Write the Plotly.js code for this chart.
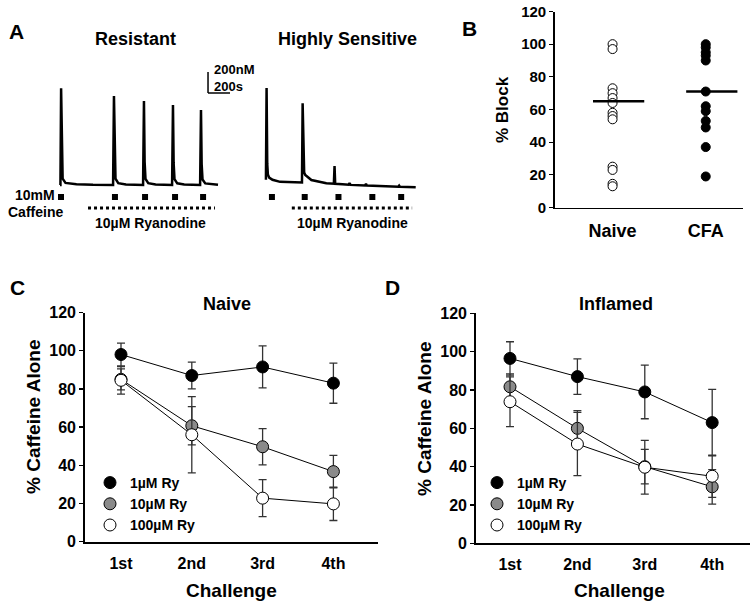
<!DOCTYPE html>
<html>
<head>
<meta charset="utf-8">
<script src="https://cdn.plot.ly/plotly-3.0.1.min.js"></script>
<style>body{margin:0;background:#fff}#chart{width:751px;height:607px}</style>
</head>
<body>
<div id="chart"></div>
<script>
// ---- A: example Ca traces (time in s, [Ca] in nM) ----
var resTime = [0, 4, 10, 16, 24, 50, 150, 300, 483, 491, 497, 505, 530, 600, 756, 764, 770, 778, 803, 870,
  1020, 1028, 1034, 1042, 1067, 1130, 1275, 1283, 1289, 1297, 1322, 1390, 1438];
var resCa = [100, 100, 1020, 330, 160, 120, 108, 102, 100, 945, 330, 160, 118, 104, 101, 898, 320, 158, 117, 104,
  101, 860, 310, 155, 116, 104, 101, 812, 300, 152, 115, 104, 102];
var senTime = [0, 6, 12, 18, 30, 60, 130, 300, 330, 336, 342, 350, 360, 416, 553, 622, 628, 634, 700, 757, 765, 775,
  908, 916, 924, 1100, 1212, 1219, 1226, 1371];
var senCa = [150, 1021, 300, 200, 170, 150, 130, 122, 124, 876, 330, 220, 195, 147, 116, 113, 280, 112, 106, 102, 118, 101,
  96, 110, 95, 88, 84, 94, 83, 78];
var resCaffeine = [9, 500, 774, 1047, 1302];
var senCaffeine = [55, 355, 664, 974, 1238];
var resRyanodine = [255, 1410];
var senRyanodine = [237, 1338];

// ---- B: % block ----
var groupsB = ['Naive', 'CFA'];
var naiveBlock = [100, 97, 73, 70, 67, 64, 58, 56, 54, 25, 23, 14.5, 13];
var cfaBlock = [100, 98, 95, 93, 90, 71, 62, 59, 53, 49, 37, 19];
var meanBlock = [65, 71];

// ---- C / D: % caffeine alone ----
var challenges = ['1st', '2nd', '3rd', '4th'];
var doses = ['1µM Ry', '10µM Ry', '100µM Ry'];
var doseFill = ['#000000', '#8a8a8a', '#ffffff'];

var naiveMean = [
  [98, 87, 91.5, 83],
  [85, 60.7, 49.7, 36.7],
  [84.5, 56, 22.8, 19.8]
];
var naiveErr = [
  [6, 7, 11, 10.5],
  [5.5, 10, 9.5, 8.5],
  [7.2, 20, 9.7, 8.7]
];
var inflMean = [
  [96.5, 87, 79, 63],
  [81.7, 60, 40, 29.5],
  [73.9, 51.8, 39.7, 35]
];
var inflErr = [
  [8.7, 9.3, 14, 17.3],
  [6.7, 9.2, 9, 9],
  [13, 16.5, 14, 11]
];

var W = 751, H = 607;
function px(x) { return x / W; }
function py(y) { return 1 - y / H; }

var FONT = '"Liberation Sans", Arial, sans-serif';
var traces = [];

// A traces
traces.push({x: resTime, y: resCa, xaxis: 'x4', yaxis: 'y4', mode: 'lines',
  line: {color: '#000', width: 2.5}, showlegend: false});
traces.push({x: senTime, y: senCa, xaxis: 'x5', yaxis: 'y5', mode: 'lines',
  line: {color: '#000', width: 2.5}, showlegend: false});
traces.push({x: resCaffeine, y: resCaffeine.map(function () { return -14; }), xaxis: 'x4', yaxis: 'y4',
  mode: 'markers', marker: {symbol: 'square', size: 6, color: '#000'}, showlegend: false});
traces.push({x: senCaffeine, y: senCaffeine.map(function () { return -14; }), xaxis: 'x5', yaxis: 'y5',
  mode: 'markers', marker: {symbol: 'square', size: 6, color: '#000'}, showlegend: false});
traces.push({x: resRyanodine, y: [-118, -118], xaxis: 'x4', yaxis: 'y4', mode: 'lines',
  line: {color: '#000', width: 3, dash: 'dot'}, showlegend: false});
traces.push({x: senRyanodine, y: [-118, -118], xaxis: 'x5', yaxis: 'y5', mode: 'lines',
  line: {color: '#000', width: 3, dash: 'dot'}, showlegend: false});

// B
traces.push({x: naiveBlock.map(function () { return groupsB[0]; }), y: naiveBlock, xaxis: 'x', yaxis: 'y',
  mode: 'markers', marker: {size: 9, color: '#fff', line: {color: '#000', width: 1}}, showlegend: false});
traces.push({x: cfaBlock.map(function () { return groupsB[1]; }), y: cfaBlock, xaxis: 'x', yaxis: 'y',
  mode: 'markers', marker: {size: 9, color: '#000', line: {color: '#000', width: 1}}, showlegend: false});

// C and D: connecting lines first, then markers + error bars (legend shows markers only)
function addPanel(means, errs, xa, ya, leg) {
  var i;
  for (i = 0; i < doses.length; i++) {
    traces.push({x: challenges, y: means[i], xaxis: xa, yaxis: ya, mode: 'lines',
      line: {color: '#000', width: 1}, showlegend: false});
  }
  for (i = 0; i < doses.length; i++) {
    traces.push({
      x: challenges, y: means[i], xaxis: xa, yaxis: ya, name: doses[i], legend: leg,
      mode: 'markers',
      marker: {size: 12, color: doseFill[i], line: {color: '#000', width: 1}},
      error_y: {type: 'data', array: errs[i], color: '#333', thickness: 1.3, width: 4}
    });
  }
}
addPanel(naiveMean, naiveErr, 'x2', 'y2', 'legend');
addPanel(inflMean, inflErr, 'x3', 'y3', 'legend2');

var shapes = meanBlock.map(function (m, i) {
  return {type: 'line', xref: 'x', yref: 'y', x0: i - 0.21, x1: i + 0.34, y0: m, y1: m,
    line: {color: '#000', width: 2.5}};
});
// scale bar 200 nM / 200 s
shapes.push({type: 'line', xref: 'x4', yref: 'y4', x0: 1347, x1: 1347, y0: 974, y1: 1174, line: {color: '#000', width: 1.5}});
shapes.push({type: 'line', xref: 'x4', yref: 'y4', x0: 1347, x1: 1547, y0: 974, y1: 974, line: {color: '#000', width: 1.5}});

function ann(text, x, y, size, opts) {
  var a = {text: text, x: px(x), y: py(y), xref: 'paper', yref: 'paper', showarrow: false,
    xanchor: 'center', yanchor: 'middle', font: {family: FONT, size: size, color: '#000', weight: 'bold'}};
  for (var k in opts) a[k] = opts[k];
  return a;
}
var annotations = [
  ann('A', 16, 31, 21),
  ann('Resistant', 135, 39, 18),
  ann('Highly Sensitive', 347, 39, 18),
  ann('200nM<br>200s', 212, 77.5, 13, {xanchor: 'left', align: 'left'}),
  ann('10mM', 35, 195, 14),
  ann('Caffeine', 35, 212, 14),
  ann('10µM Ryanodine', 150, 222.5, 14),
  ann('10µM Ryanodine', 352, 222.5, 14),
  ann('B', 470, 29, 21),
  ann('% Block', 502, 110, 17, {textangle: -90}),
  ann('C', 17, 287, 21),
  ann('D', 392, 287, 21),
  ann('Naive', 227, 304, 18),
  ann('Inflamed', 616, 304, 18),
  ann('% Caffeine Alone', 33, 417, 19, {textangle: -90}),
  ann('% Caffeine Alone', 424, 419, 19, {textangle: -90}),
  ann('Challenge', 232, 590, 19),
  ann('Challenge', 619, 590, 19)
];

function valAxis(dom, range, dtick, size, anchor) {
  return {domain: dom, range: range, dtick: dtick, anchor: anchor, showline: true, linewidth: 1.8, linecolor: '#000',
    ticks: 'outside', ticklen: 4, tickwidth: 1.3, tickcolor: '#000', showgrid: false, zeroline: false,
    tickfont: {family: FONT, size: size, color: '#000', weight: 'bold'}, fixedrange: true};
}
function catAxis(dom, range, size, standoff, anchor) {
  return {domain: dom, range: range, type: 'category', anchor: anchor, showline: true, linewidth: 1.8,
    linecolor: '#000', ticks: '', showgrid: false, zeroline: false, ticklabelstandoff: standoff,
    tickfont: {family: FONT, size: size, color: '#000', weight: 'bold'}, fixedrange: true};
}
function hidden(dom, range, anchor) {
  return {domain: dom, range: range, anchor: anchor, visible: false, fixedrange: true};
}

var layout = {
  width: W, height: H,
  margin: {l: 0, r: 0, t: 0, b: 0},
  paper_bgcolor: '#fff', plot_bgcolor: 'rgba(0,0,0,0)',
  font: {family: FONT, color: '#000'},
  xaxis: catAxis([px(555), px(743)], [-0.618, 1.40], 18, 6, 'y'),
  yaxis: valAxis([py(207.5), py(11.5)], [0, 120], 20, 15, 'x'),
  xaxis2: catAxis([px(85), px(378)], [-0.5085, 3.63], 16, 6, 'y2'),
  yaxis2: valAxis([py(541.7), py(312.5)], [0, 120], 20, 16, 'x2'),
  xaxis3: catAxis([px(476), px(750)], [-0.5045, 3.561], 16, 6, 'y3'),
  yaxis3: valAxis([py(543.3), py(313.4)], [0, 120], 20, 16, 'x3'),
  xaxis4: hidden([px(50), px(240)], [-91, 1638], 'y4'),
  yaxis4: hidden([py(215), py(65)], [-185, 1240], 'x4'),
  xaxis5: hidden([px(255), px(425)], [-100, 1456], 'y5'),
  yaxis5: hidden([py(215), py(65)], [-185, 1240], 'x5'),
  legend: {x: px(90), y: py(504), xanchor: 'left', yanchor: 'middle', bgcolor: 'rgba(0,0,0,0)',
    font: {family: FONT, size: 14, color: '#000', weight: 'bold'}, tracegroupgap: 0},
  legend2: {x: px(477), y: py(504), xanchor: 'left', yanchor: 'middle', bgcolor: 'rgba(0,0,0,0)',
    font: {family: FONT, size: 14, color: '#000', weight: 'bold'}, tracegroupgap: 0},
  shapes: shapes,
  annotations: annotations,
  showlegend: true
};

Plotly.newPlot('chart', traces, layout, {displayModeBar: false, staticPlot: true});
</script>
</body>
</html>
